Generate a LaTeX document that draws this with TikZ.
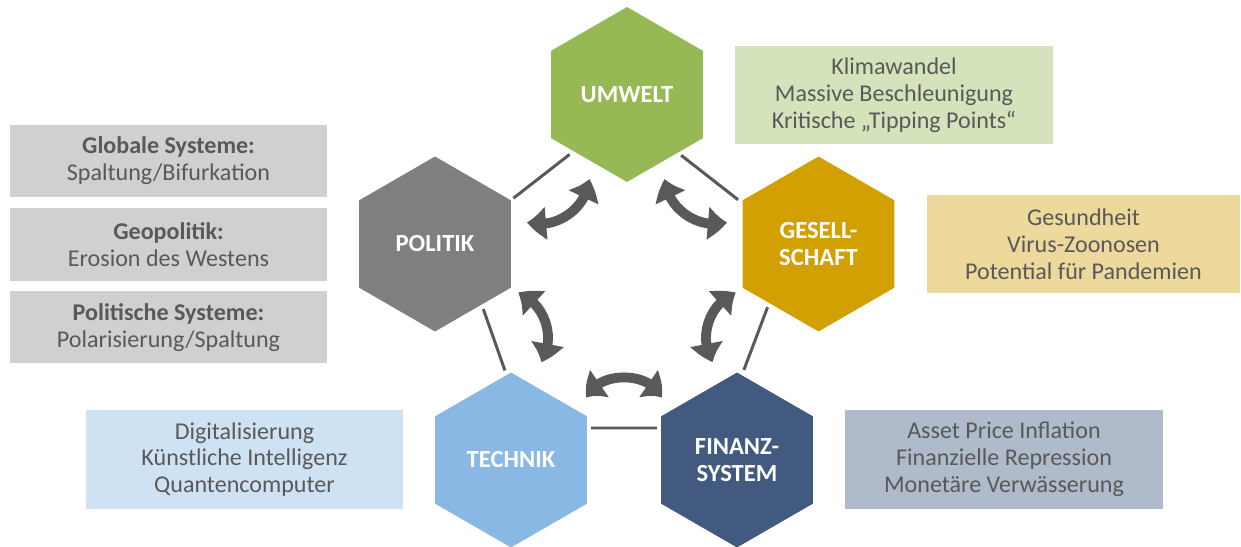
\documentclass[tikz,border=0pt]{standalone}
\usepackage{fontspec}
\setmainfont{Carlito}
\usepackage{xcolor}
\usetikzlibrary{shapes.geometric,arrows.meta,bending,positioning}

\definecolor{umweltgreen}{HTML}{97B955}
\definecolor{politikgray}{HTML}{7F7F7F}
\definecolor{gesgold}{HTML}{D2A000}
\definecolor{techblue}{HTML}{89B8E4}
\definecolor{finblue}{HTML}{425A80}
\definecolor{umweltlight}{HTML}{D5E3BC}
\definecolor{politiklight}{HTML}{D0D0D0}
\definecolor{geslight}{HTML}{EDD99B}
\definecolor{techlight}{HTML}{CFE2F3}
\definecolor{finlight}{HTML}{AFBACA}
\definecolor{textgray}{HTML}{595959}

\begin{document}
\begin{tikzpicture}[
        x=0.02cm, y=0.02cm,
        % Define styles for different components
        hexa/.style={
            regular polygon,
            regular polygon sides=6,
            shape border rotate=30,
            minimum size=3.5cm,
            inner sep=0pt,
            text=white,
            font=\fontsize{14}{15.5}\selectfont\bfseries,
            align=center
        },
        infobox/.style={
            rectangle,
            inner sep=0pt,
            text=textgray,
            font=\fontsize{13.7}{15.3}\selectfont,
            align=center
        },
        link/.style={
            draw=textgray,
            line width=1.7pt
        },
        turnarrow/.style={
            draw=textgray,
            line width=5.6pt,
            {Triangle[width=18pt,length=11pt,bend]}-{Triangle[width=18pt,length=11pt,bend]}
        }
    ]

    \useasboundingbox (0,0) rectangle (1241,-547);

    % Place the five hexagons
    \node[hexa, fill=umweltgreen] (umwelt) at (627,-94.5) {\raisebox{-2pt}{UMWELT}};
    \node[hexa, fill=politikgray] (politik) at (435,-244) {\raisebox{-2pt}{POLITIK}};
    \node[hexa, fill=gesgold] (gesellschaft) at (818.5,-244) {GESELL-\\SCHAFT};
    \node[hexa, fill=techblue] (technik) at (511,-460) {\raisebox{-2pt}{TECHNIK}};
    \node[hexa, fill=finblue] (finanz) at (737,-460) {FINANZ-\\SYSTEM};

    % Frame lines between the hexagons
    \draw[link, transform canvas={shift={(7.4,-9.5)}}, shorten <=0.16cm] (politik) -- (umwelt);
    \draw[link, transform canvas={shift={(-9,-11.5)}}, shorten <=-0.04cm, shorten >=0.17cm] (umwelt) -- (gesellschaft);
    \draw[link, transform canvas={shift={(-23.7,9)}}, shorten >=0.19cm] (gesellschaft) -- (finanz);
    \draw[link, transform canvas={shift={(0,32)}}, shorten <=0.08cm, shorten >=0.08cm] (technik) -- (finanz);
    \draw[link, transform canvas={shift={(22.6,8)}}, shorten <=0.18cm] (technik) -- (politik);

    % Ends of the curved double arrows
    \coordinate (pu1) at (527,-222);
    \coordinate (pu2) at (589,-179);
    \coordinate (ug1) at (665,-179);
    \coordinate (ug2) at (727,-222);
    \coordinate (gf1) at (736,-293);
    \coordinate (gf2) at (713,-362);
    \coordinate (ft1) at (661,-398);
    \coordinate (ft2) at (587,-398);
    \coordinate (tp1) at (541,-362);
    \coordinate (tp2) at (518,-293);

    % Draw the curved double arrows
    \draw[turnarrow] (pu1) to[bend right=52] (pu2);
    \draw[turnarrow] (ug1) to[bend right=52] (ug2);
    \draw[turnarrow] (gf1) to[bend right=52] (gf2);
    \draw[turnarrow] (ft1) to[bend right=72] (ft2);
    \draw[turnarrow] (tp1) to[bend right=52] (tp2);

    % Place the info boxes
    \node[infobox, fill=umweltlight, minimum width=6.36cm, minimum height=1.96cm] (umweltinfo) at (894,-95) {Klimawandel\\Massive Beschleunigung\\Kritische „Tipping Points“};
    \node[infobox, fill=geslight, minimum width=6.26cm, minimum height=1.96cm] (gesinfo) at (1083.5,-244) {Gesundheit\\Virus-Zoonosen\\Potential für Pandemien};
    \node[infobox, fill=politiklight, minimum width=6.34cm, minimum height=1.44cm] (globinfo) at (168.5,-161) {\textbf{Globale Systeme:}\\Spaltung/Bifurkation};
    \node[infobox, fill=politiklight, minimum width=6.34cm, minimum height=1.46cm, below=0.2cm of globinfo] (geoinfo) {\textbf{Geopolitik:}\\Erosion des Westens};
    \node[infobox, fill=politiklight, minimum width=6.34cm, minimum height=1.44cm, below=0.2cm of geoinfo] (polinfo) {\textbf{Politische Systeme:}\\Polarisierung/Spaltung};
    \node[infobox, fill=techlight, minimum width=6.34cm, minimum height=1.98cm] (techinfo) at (244.5,-459.5) {Digitalisierung\\Künstliche Intelligenz\\Quantencomputer};
    \node[infobox, fill=finlight, minimum width=6.36cm, minimum height=1.98cm] (fininfo) at (1004,-459.5) {Asset Price Inflation\\Finanzielle Repression\\Monetäre Verwässerung};

\end{tikzpicture}
\end{document}
